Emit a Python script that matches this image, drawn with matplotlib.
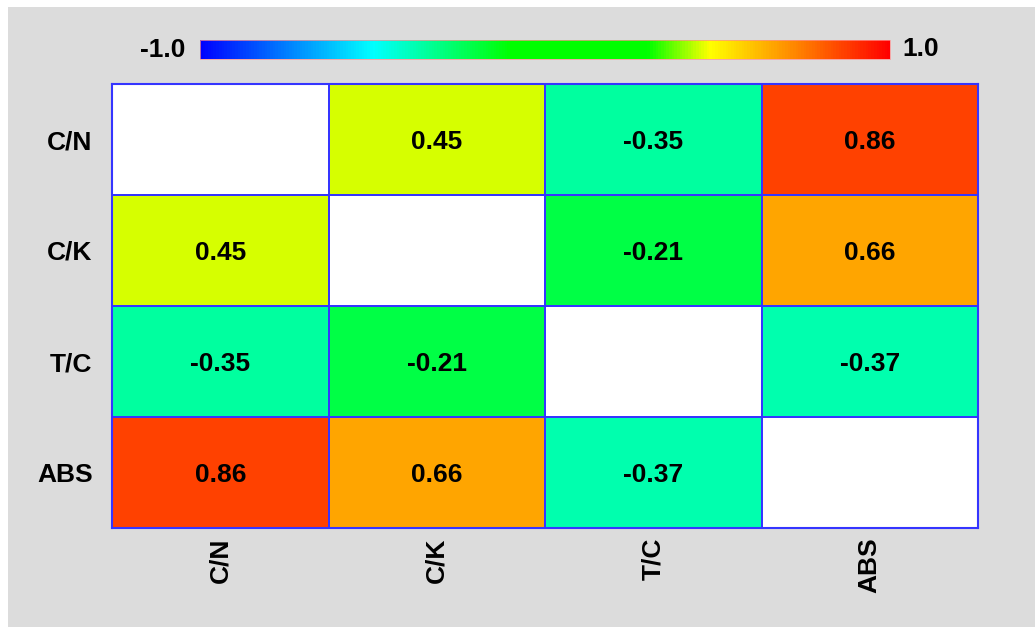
import numpy as np
import matplotlib
matplotlib.use('Agg')
import matplotlib.pyplot as plt
from matplotlib.colors import LinearSegmentedColormap
from matplotlib.patches import Rectangle

plt.rcParams['font.family'] = ['Liberation Sans', 'DejaVu Sans']
plt.rcParams['font.weight'] = 'bold'

# variables and correlation values (diagonal left blank)
labels = ['C/N', 'C/K', 'T/C', 'ABS']
row_cn = [np.nan, 0.45, -0.35, 0.86]
row_ck = [0.45, np.nan, -0.21, 0.66]
row_tc = [-0.35, -0.21, np.nan, -0.37]
row_abs = [0.86, 0.66, -0.37, np.nan]

corr = np.array([row_cn, row_ck, row_tc, row_abs])
data = np.ma.masked_invalid(corr)

# custom blue -> cyan -> green -> yellow -> red scale
cmap = LinearSegmentedColormap.from_list('corr', [
    (0.0, '#0000ff'), (0.25, '#00ffff'), (0.45, '#00ff00'),
    (0.65, '#00ff00'), (0.74, '#ffff00'), (1.0, '#ff0000')])

fig = plt.figure(figsize=(10.35, 6.27), dpi=100, facecolor='white')
# gray panel behind everything
fig.add_artist(Rectangle((8 / 1035, 0), 1, 1 - 7 / 627, transform=fig.transFigure,
                         facecolor='#dcdcdc', edgecolor='none', zorder=-5))

ax = fig.add_axes([112 / 1035, 99 / 627, 866 / 1035, 444 / 627])
ax.set_facecolor('white')
mesh = ax.pcolormesh(data, cmap=cmap, vmin=-1, vmax=1,
                     edgecolors='#3535ff', linewidth=1.3)
ax.set_xlim(0, 4)
ax.set_ylim(4, 0)
for s in ax.spines.values():
    s.set_color('#3535ff')
    s.set_linewidth(1.5)

for i in range(4):
    for j in range(4):
        if not np.isnan(corr[i, j]):
            ax.text(j + 0.5, i + 0.5, f'{corr[i, j]:.2f}', ha='center', va='center_baseline',
                    fontsize=19, fontweight='bold', color='black')

ax.set_xticks(np.arange(4) + 0.5)
ax.set_xticklabels(labels, rotation=90, fontsize=19, fontweight='bold')
ax.set_yticks(np.arange(4) + 0.5)
ax.set_yticklabels(labels, fontsize=19, fontweight='bold')
ax.tick_params(axis='x', length=0, pad=7)
ax.tick_params(axis='y', length=0, pad=14)

# colour bar on top
cax = fig.add_axes([200 / 1035, 568 / 627, 690 / 1035, 19 / 627])
cb = fig.colorbar(mesh, cax=cax, orientation='horizontal')
cb.set_ticks([])
cb.outline.set_linewidth(0.5)
cb.outline.set_edgecolor('#ff9090')
fig.text(185 / 1035, 1 - 50 / 627, '-1.0', ha='right', va='center', fontsize=19, fontweight='bold')
fig.text(902 / 1035, 1 - 49 / 627, '1.0', ha='left', va='center', fontsize=19, fontweight='bold')

fig.savefig('out.png', dpi=100, facecolor=fig.get_facecolor())
